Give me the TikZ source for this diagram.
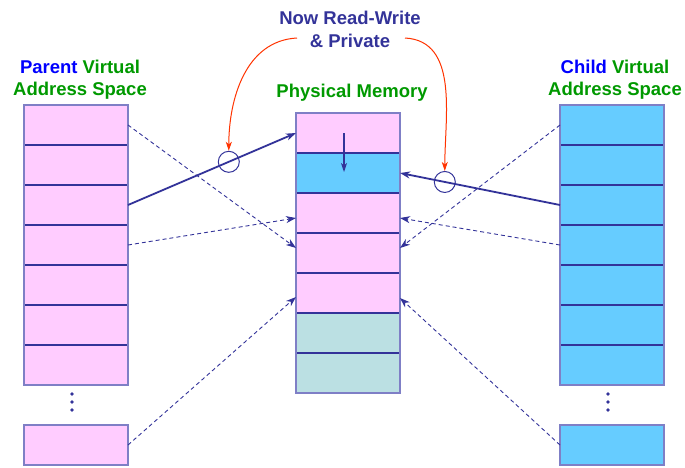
\documentclass[tikz,border=0pt]{standalone}
\usepackage{fontspec}
\setmainfont{Liberation Sans}
\usetikzlibrary{arrows.meta,calc}
\definecolor{pinkcell}{HTML}{FFCCFF}
\definecolor{bluecell}{HTML}{66CCFF}
\definecolor{tealcell}{HTML}{BBE0E3}
\definecolor{navy}{HTML}{333399}
\definecolor{framecol}{HTML}{7F7FC6}
\definecolor{greentxt}{HTML}{009900}
\definecolor{bluetxt}{HTML}{0000FF}
\definecolor{redline}{HTML}{FF3300}
\begin{document}
\begin{tikzpicture}[x=1pt,y=-1pt,
  cell/.style={draw=navy, line width=1.3pt, minimum width=104pt, minimum height=40pt, inner sep=0pt, outer sep=0pt},
  frame/.style={draw=framecol, line width=1.6pt},
  lbl/.style={font=\fontsize{18.5}{22}\selectfont\bfseries, inner sep=0pt, anchor=base},
  map/.style={draw=navy, line width=1.8pt, -{Stealth[length=10pt,width=7pt,inset=3pt]}},
  share/.style={draw=navy, line width=0.9pt, dash pattern=on 4pt off 3pt, -{Stealth[length=10pt,width=7pt,inset=3pt]}},
  note/.style={draw=redline, line width=1pt, -{Stealth[length=9pt,width=6pt,inset=2.5pt]}},
  ring/.style={circle, draw=navy, line width=1pt, minimum size=21pt, inner sep=0pt},
  dot/.style={circle, fill=navy, inner sep=0pt, minimum size=3.6pt}]
\useasboundingbox (0,0) rectangle (685,467);

% parent virtual address space
\foreach \i/\y in {1/125,2/165,3/205,4/245,5/285,6/325,7/365}
  \node[cell, fill=pinkcell] (p\i) at (76,\y) {};
\node[cell, fill=pinkcell] (pb) at (76,445) {};
\draw[frame] (p1.north west) rectangle (p7.south east);
\draw[frame] (pb.north west) rectangle (pb.south east);
\node[dot] (pd1) at (72,394) {};
\node[dot] (pd2) at (72,402) {};
\node[dot] (pd3) at (72,410) {};

% physical memory
\node[cell, fill=pinkcell] (m1) at (348,133) {};
\node[cell, fill=bluecell] (m2) at (348,173) {};
\node[cell, fill=pinkcell] (m3) at (348,213) {};
\node[cell, fill=pinkcell] (m4) at (348,253) {};
\node[cell, fill=pinkcell] (m5) at (348,293) {};
\node[cell, fill=tealcell] (m6) at (348,333) {};
\node[cell, fill=tealcell] (m7) at (348,373) {};
\draw[frame] (m1.north west) rectangle (m7.south east);

% child virtual address space
\foreach \i/\y in {1/125,2/165,3/205,4/245,5/285,6/325,7/365}
  \node[cell, fill=bluecell] (c\i) at (612,\y) {};
\node[cell, fill=bluecell] (cb) at (612,445) {};
\draw[frame] (c1.north west) rectangle (c7.south east);
\draw[frame] (cb.north west) rectangle (cb.south east);
\node[dot] (cd1) at (608,394) {};
\node[dot] (cd2) at (608,402) {};
\node[dot] (cd3) at (608,410) {};

% labels
\node[lbl, text=navy] (t1) at (350,24) {Now Read-Write};
\node[lbl, text=navy] (t2) at (350,47) {\& Private};
\node[lbl] (pv) at (80,73) {\textcolor{bluetxt}{Parent} \textcolor{greentxt}{Virtual}};
\node[lbl, text=greentxt] (pa) at (80,95) {Address Space};
\node[lbl, text=greentxt] (pm) at (352,97) {Physical Memory};
\node[lbl] (cv) at (615,73) {\textcolor{bluetxt}{Child} \textcolor{greentxt}{Virtual}};
\node[lbl, text=greentxt] (ca) at (615,95) {Address Space};

% shared (read-only) mappings
\draw[share] (p1.east) -- ([yshift=5pt]m4.west);
\draw[share] (p4.east) -- ([yshift=-5pt]m3.west);
\draw[share] (pb.east) -- ([yshift=-4pt]m5.west);
\draw[share] (c1.west) -- ([yshift=5pt]m4.east);
\draw[share] (c4.west) -- ([yshift=-5pt]m3.east);
\draw[share] (cb.west) -- ([yshift=-5pt]m5.east);

% private copies after the write
\draw[map] (p3.east) -- node[ring, pos=0.6] (o1) {} (m1.west);
\draw[map] (c3.west) -- node[ring, pos=0.72] (o2) {} (m2.east);

% page copied
\draw[navy, line width=1.1pt, -{Stealth[length=9pt,width=6pt,inset=2.5pt]}]
  ([xshift=-4pt]m1.center) -- ([xshift=-4pt,yshift=1pt]m2.center);

% annotation arrows
\coordinate (rl) at (297,38);
\coordinate (rr) at (405,38);
\draw[note] (rl) to[out=183,in=90] (o1.north);
\draw[note] (rr) to[out=-3,in=90] (o2.north);
\end{tikzpicture}
\end{document}
